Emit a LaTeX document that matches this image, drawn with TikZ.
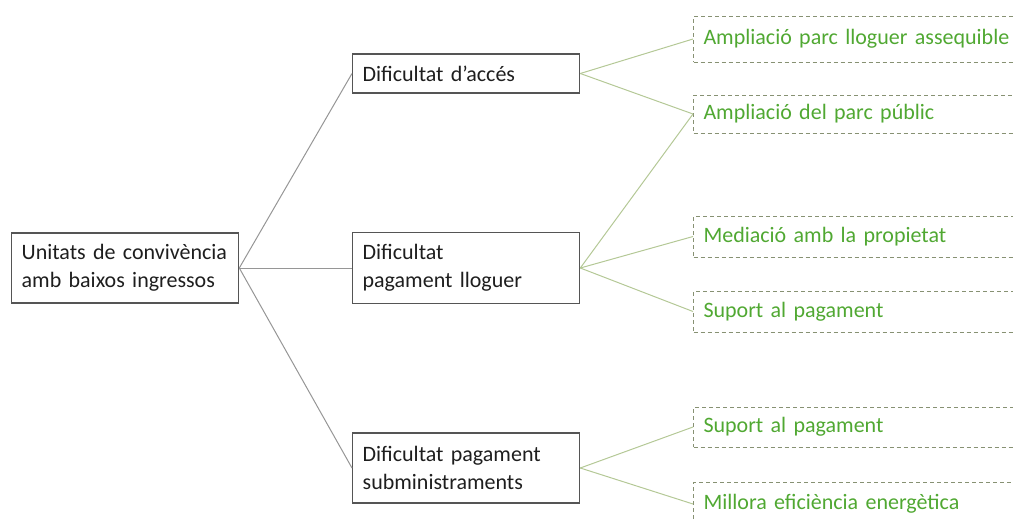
\documentclass[tikz,border=0pt]{standalone}
\usepackage{fontspec}
\setmainfont{Carlito}[WordSpace=0.75]
\usepackage{tikz}
\usetikzlibrary{calc}
\definecolor{boxgrey}{RGB}{85,85,85}
\definecolor{txtgrey}{RGB}{30,30,30}
\definecolor{linegrey}{RGB}{150,150,150}
\definecolor{leafline}{RGB}{180,200,150}
\definecolor{dashgrey}{RGB}{135,145,115}
\definecolor{leafgreen}{RGB}{80,168,50}
\tikzset{
  bx/.style={draw=boxgrey,line width=1.3pt,anchor=west,align=left,text width=207pt,
    inner xsep=10pt,inner ysep=0pt,text=txtgrey,font=\fontsize{22}{28}\selectfont},
  leaf/.style={draw=dashgrey,line width=1pt,dash pattern=on 4pt off 3pt,anchor=west,align=left,
    text width=330pt,inner xsep=10pt,inner ysep=0pt,text=leafgreen,minimum height=41pt,
    font=\fontsize{22}{28}\selectfont},
  toplink/.style={draw=linegrey,line width=1pt},
  leaflink/.style={draw=leafline,line width=1pt}
}
\begin{document}
\begin{tikzpicture}[x=1pt,y=-1pt]
                      \clip(0,0)rectangle(1013,520);
                      \node[bx,minimum height=70pt](root)at(11,268){Unitats de convivència\\amb baixos ingressos};
                      \node[bx,minimum height=39pt](acces)at(352,73.5){Dificultat d’accés};
                      \node[bx,minimum height=71pt](lloguer)at(352,268){Dificultat\\pagament lloguer};
                      \node[bx,minimum height=70pt](submin)at(352,468){Dificultat pagament\\subministraments};
                      \node[leaf,minimum height=46pt](assequible)at(693,39){Ampliació parc lloguer assequible};
                      \node[leaf,minimum height=38pt](public)at(693,114){Ampliació del parc públic};
                      \node[leaf](mediacio)at(693,236.5){Mediació amb la propietat};
                      \node[leaf](suport)at(693,311.5){Suport al pagament};
                      \node[leaf,minimum height=40pt](suportb)at(693,427){Suport al pagament};
                      \node[leaf,minimum height=44pt](millora)at(693,504){Millora eficiència energètica};
                      \draw[toplink](root.east)--(acces.west);
                      \draw[toplink](root.east)--(lloguer.west);
                      \draw[toplink](root.east)--(submin.west);
                      \draw[leaflink](acces.east)--(assequible.west);
                      \draw[leaflink](acces.east)--(public.west);
                      \draw[leaflink](lloguer.east)--(public.west);
                      \draw[leaflink](lloguer.east)--(mediacio.west);
                      \draw[leaflink](lloguer.east)--(suport.west);
                      \draw[leaflink](submin.east)--(suportb.west);
                      \draw[leaflink](submin.east)--(millora.west);
                  \end{tikzpicture}
\end{document}
